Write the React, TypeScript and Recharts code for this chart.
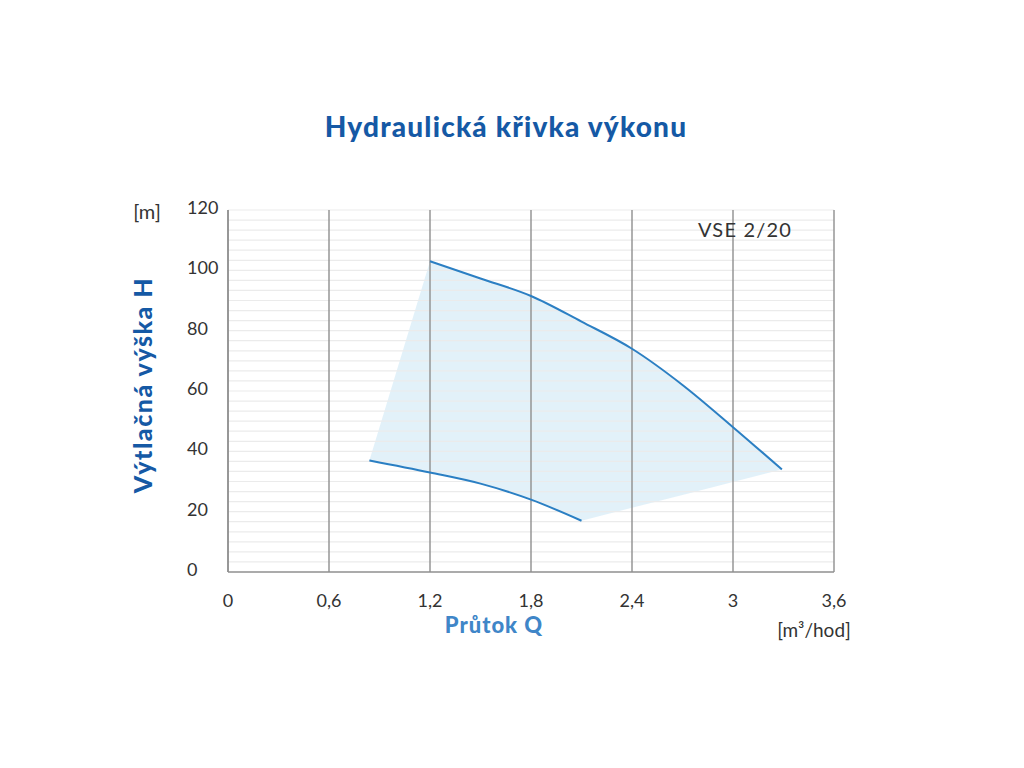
import React from "react";
import {
  ComposedChart,
  Line,
  Area,
  XAxis,
  YAxis,
  ReferenceLine,
} from "recharts";

// ---- data ----
const xTicks = [0, 0.6, 1.2, 1.8, 2.4, 3, 3.6];
const yTicks = [0, 20, 40, 60, 80, 100, 120];

const upperQ = [1.2, 1.5, 1.8, 2.1, 2.4, 2.7, 3.0, 3.29];
const upperH = [103, 97.3, 91.5, 83, 74, 62, 48, 34];

const lowerQ = [0.84, 1.2, 1.5, 1.8, 2.1];
const lowerH = [37, 33, 29.3, 24, 17];

// operating region outline (low / high edge at each flow value)
const regionQ = [0.84, 1.2, 1.5, 1.8, 2.1, 2.4, 2.7, 3.0, 3.29];
const regionLow = [37, 33, 29.3, 24, 17, 21.3, 25.5, 29.8, 34];
const regionHigh = [37, 103, 97.3, 91.5, 83, 74, 62, 48, 34];

const minorGrid: number[] = [];
for (let i = 1; i <= 36; i++) minorGrid.push((i * 120) / 36);

const upperData = upperQ.map((q, i) => ({ q, h: upperH[i] }));
const lowerData = lowerQ.map((q, i) => ({ q, h: lowerH[i] }));
const regionData = regionQ.map((q, i) => ({ q, range: [regionLow[i], regionHigh[i]] }));

const FONT = "Lato, 'Noto Sans', sans-serif";
const BLUE = "#1559a5";
const LINE = "#2b7fc3";

const fmt = (v: number) => String(v).replace(".", ",");

const YTick = (props: any) => {
  const { x, y, payload } = props;
  return (
    <text x={x} y={y} dy={-3} textAnchor="start" dominantBaseline="central" fill="#333" fontSize={18} fontFamily={FONT}>
      {payload.value}
    </text>
  );
};

const abs = (left: number, top: number): React.CSSProperties => ({
  position: "absolute",
  left,
  top,
  transform: "translate(-50%, -50%)",
  whiteSpace: "nowrap",
  fontFamily: FONT,
});

export default function App() {
  return (
    <div style={{ position: "absolute", left: 0, top: 0, width: 1024, height: 768, background: "#fff" }}>
      <ComposedChart
        width={1024}
        height={768}
        margin={{ top: 210, right: 190, bottom: 156, left: 188 }}
      >
        {minorGrid.map((v) => (
          <ReferenceLine key={"h" + v} y={v} stroke="#ebebeb" strokeWidth={1.2} />
        ))}
        {xTicks.map((v) => (
          <ReferenceLine key={"v" + v} x={v} stroke="#8f8f8f" strokeWidth={1.4} />
        ))}
        <XAxis
          type="number"
          dataKey="q"
          domain={[0, 3.6]}
          ticks={xTicks}
          tickFormatter={fmt}
          tickSize={0}
          tickMargin={22}
          height={40}
          axisLine={{ stroke: "#8f8f8f", strokeWidth: 1.5 }}
          tick={{ fill: "#333", fontSize: 18, fontFamily: FONT }}
          allowDataOverflow
        />
        <YAxis
          type="number"
          domain={[0, 120]}
          ticks={yTicks}
          width={40}
          tickSize={0}
          tickMargin={41}
          axisLine={{ stroke: "#8f8f8f", strokeWidth: 1.5 }}
          tick={<YTick />}
          allowDataOverflow
        />
        <Area
          data={regionData}
          dataKey="range"
          type="linear"
          stroke="none"
          fill="#ddeef8"
          fillOpacity={0.85}
          isAnimationActive={false}
          activeDot={false}
        />
        <Line
          data={upperData}
          dataKey="h"
          type="monotone"
          stroke={LINE}
          strokeWidth={2}
          dot={false}
          activeDot={false}
          isAnimationActive={false}
        />
        <Line
          data={lowerData}
          dataKey="h"
          type="monotone"
          stroke={LINE}
          strokeWidth={2}
          dot={false}
          activeDot={false}
          isAnimationActive={false}
        />
      </ComposedChart>

      <div style={{ ...abs(506, 126), fontSize: 28, fontWeight: 900, color: BLUE, letterSpacing: 1.2 }}>
        Hydraulická křivka výkonu
      </div>
      <div style={{ ...abs(147, 211), fontSize: 20, color: "#333" }}>[m]</div>
      <div style={{ ...abs(142, 385), fontSize: 25, fontWeight: 900, color: BLUE, letterSpacing: 1.5, transform: "translate(-50%, -50%) rotate(-90deg)" }}>
        Výtlačná výška H
      </div>
      <div style={{ ...abs(745, 229), fontSize: 20, color: "#333", letterSpacing: 1.2 }}>VSE 2/20</div>
      <div style={{ ...abs(494, 624), fontSize: 22, fontWeight: 900, color: "#3f86c8", letterSpacing: 1 }}>Průtok Q</div>
      <div style={{ ...abs(814, 629), fontSize: 19, color: "#333" }}>[m³/hod]</div>
    </div>
  );
}
